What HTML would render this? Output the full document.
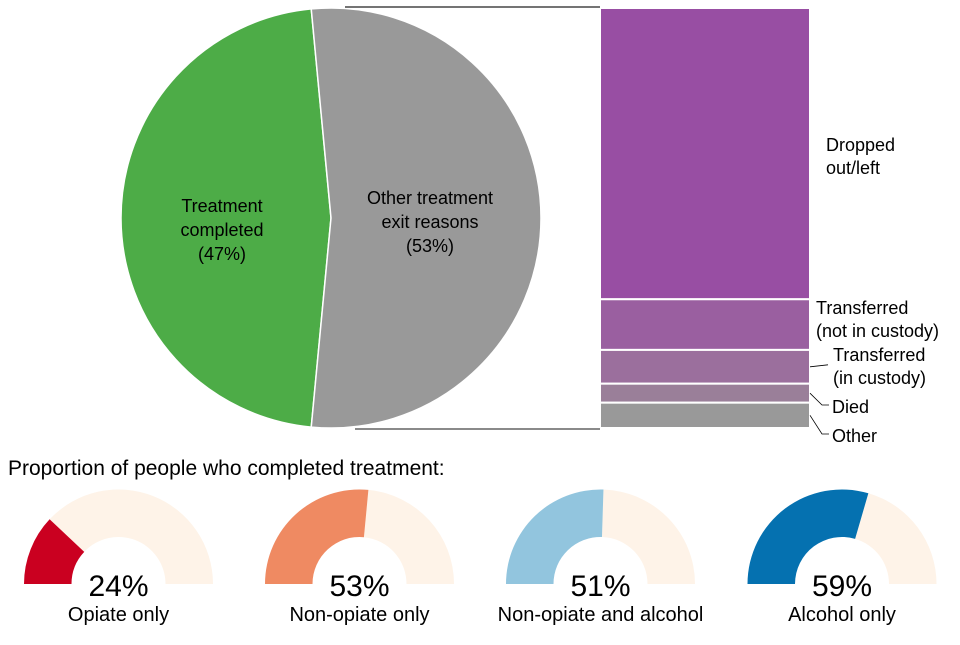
<!DOCTYPE html>
<html><head><meta charset="utf-8"><style>
body{margin:0;background:#fff;width:960px;height:640px;overflow:hidden;font-family:"Liberation Sans",Arial,sans-serif}
svg text{font-family:"Liberation Sans",Arial,sans-serif}
</style></head><body>
<svg id="c" width="960" height="640" viewBox="0 0 960 640"></svg>
<script>
const pieLabels=["Treatment completed","Other treatment exit reasons"];
const pieValues=[47,53];
const barCategories=["Dropped out/left","Transferred (not in custody)","Transferred (in custody)","Died","Other"];
const barValues=[69,12,8,4.5,6];
const gaugeLabels=["Opiate only","Non-opiate only","Non-opiate and alcohol","Alcohol only"];
const gaugeValues=[24,53,51,59];

const NS="http://www.w3.org/2000/svg";
const svg=document.getElementById('c');
function mk(t,a,p){const e=document.createElementNS(NS,t);for(const k in a)e.setAttribute(k,a[k]);(p||svg).appendChild(e);return e;}
function txt(x,y,s,size,anchor,name){const t=mk('text',{x:x,y:y,'font-size':size,'text-anchor':anchor||'middle',fill:'#000'});t.textContent=s;


return t;}

// pie
const cx=331,cy=218,R=210;
const total=pieValues.reduce((a,b)=>a+b,0);
const greenAng=pieValues[0]/total*360;
const startG=270-greenAng/2;
function pt(a,r,x0,y0){const rad=a*Math.PI/180;return [x0+r*Math.sin(rad),y0-r*Math.cos(rad)];}
function sector(a0,a1,fill,name){const p0=pt(a0,R,cx,cy),p1=pt(a1,R,cx,cy);const large=(a1-a0)>180?1:0;
const e=mk('path',{d:`M${cx},${cy}L${p0[0]},${p0[1]}A${R},${R} 0 ${large} 1 ${p1[0]},${p1[1]}Z`,fill:fill,stroke:'#fff','stroke-width':1.5});


return [p0,p1];}
const g=sector(startG,startG+greenAng,'#4dac47','pie-slice-completed');
const o=sector(startG+greenAng,startG+360,'#999999','pie-slice-other');
txt(222,212,'Treatment',18,'middle','pie-label-completed');
txt(222,236,'completed',18,'middle','pie-label-completed-2');
txt(222,260,'('+pieValues[0]+'%)',18,'middle','pie-label-completed-pct');
txt(430,204,'Other treatment',18,'middle','pie-label-other');
txt(430,228,'exit reasons',18,'middle','pie-label-other-2');
txt(430,252,'('+pieValues[1]+'%)',18,'middle','pie-label-other-pct');

// stacked bar
const bx=600,bw=210,by0=8,bh=420;
const bsum=barValues.reduce((a,b)=>a+b,0);
const bcol=['#984ea3','#9a5fa0','#9b6f9d','#9a7f99','#999999'];
const ys=[];let yy=by0;
barValues.forEach((v,i)=>{const h=v/bsum*bh;const r=mk('rect',{x:bx,y:yy,width:bw,height:h,fill:bcol[i],stroke:'#fff','stroke-width':2});


ys.push([yy,h]);yy+=h;});
mk('line',{x1:345,y1:7,x2:bx,y2:7,stroke:'#222','stroke-width':1.2});
mk('line',{x1:355,y1:429,x2:bx,y2:429,stroke:'#444','stroke-width':1.2});
// bar labels
txt(826,151,'Dropped',18,'start','bar-label-dropped');
txt(826,174,'out/left',18,'start','bar-label-dropped-2');
txt(816,314,'Transferred',18,'start','bar-label-transferred-nc');
txt(816,337,'(not in custody)',18,'start','bar-label-transferred-nc-2');
txt(833,361,'Transferred',18,'start','bar-label-transferred-c');
txt(833,384,'(in custody)',18,'start','bar-label-transferred-c-2');
txt(832,413,'Died',18,'start','bar-label-died');
txt(832,442,'Other',18,'start','bar-label-other');
const lc={stroke:'#000','stroke-width':0.8,fill:'none'};
mk('polyline',Object.assign({points:`810,${ys[2][0]+ys[2][1]/2} 828,${ys[2][0]+ys[2][1]/2-2}`},lc));
mk('polyline',Object.assign({points:`810,${ys[3][0]+ys[3][1]/2} 822,405 829,405`},lc));
mk('polyline',Object.assign({points:`810,${ys[4][0]+ys[4][1]/2} 822,434 829,434`},lc));

// title
txt(8,475,'Proportion of people who completed treatment:',21,'start','gauges-title');

// gauges
const gcol=['#ca0020','#ef8a62','#92c5de','#0571b0'];
const gcx=[118.5,359.5,600.5,842],gcy=584,gR=94.5,gr=47;
function arc(a0,a1,fill,name){
function p(a,r,c){const rad=a*Math.PI/180;return [c-r*Math.cos(rad),gcy-r*Math.sin(rad)];}
return function(c){const A=p(a0,gR,c),B=p(a1,gR,c),C=p(a1,gr,c),D=p(a0,gr,c);
const e=mk('path',{d:`M${A}A${gR},${gR} 0 0 1 ${B}L${C}A${gr},${gr} 0 0 0 ${D}Z`,fill:fill});

};}
gaugeValues.forEach((v,i)=>{const c=gcx[i];const a=v/100*180;
arc(a,180,'#fef3e8','gauge-background-'+i)(c);
arc(0,a,gcol[i],'gauge-fill-'+i)(c);
txt(c,596,v+'%',30,'middle','gauge-value-'+i);
txt(c,621,gaugeLabels[i],20,'middle','gauge-label-'+i);});
</script>
</body></html>
